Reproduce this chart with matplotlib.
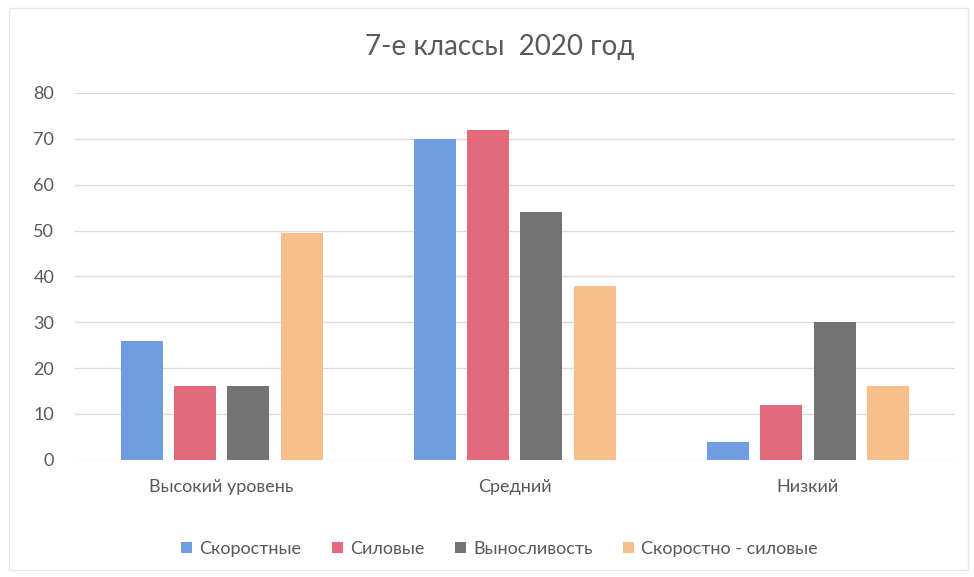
import matplotlib
matplotlib.use("Agg")
import matplotlib.pyplot as plt
import numpy as np
from matplotlib.patches import Rectangle

categories = ["Высокий уровень", "Средний", "Низкий"]
series_names = ["Скоростные", "Силовые", "Выносливость", "Скоростно - силовые"]
skorostnye = [26, 70, 4]
silovye = [16, 72, 12]
vynoslivost = [16, 54, 30]
skor_silovye = [49.5, 38, 16]
yticks = [0, 10, 20, 30, 40, 50, 60, 70, 80]

values = [skorostnye, silovye, vynoslivost, skor_silovye]
colors = ["#6f9be0", "#e2697a", "#737373", "#f7bf8c"]

plt.rcParams['font.family'] = ['Lato', 'DejaVu Sans']

fig = plt.figure(figsize=(9.74, 5.77), dpi=100)
ax = fig.add_axes([0.077, 0.203, 0.903, 0.636])

x = np.arange(len(categories))
pitch = 0.182
width = 0.143
for i, (name, vals, c) in enumerate(zip(series_names, values, colors)):
    ax.bar(x + (i - 1.5) * pitch, vals, width=width, color=c, label=name, zorder=3)

ax.set_xlim(-0.5, 2.5)
ax.set_ylim(0, 80)
ax.set_yticks(yticks)
ax.set_xticks(x)
ax.set_xticklabels(categories)
ax.grid(axis='y', color='#dcdcdc', linewidth=1, zorder=0)
for s in ax.spines.values():
    s.set_visible(False)
ax.tick_params(axis='both', length=0, labelsize=13, colors='#595959')
ax.tick_params(axis='y', pad=15)
ax.tick_params(axis='x', pad=14)

fig.text(0.513, 0.918, "7-е классы  2020 год", ha='center', va='center',
         fontsize=20, color='#595959')

leg = fig.legend(loc='center', bbox_to_anchor=(0.513, 0.049), ncol=4, frameon=False,
                 fontsize=13, handlelength=0.6, handleheight=0.6, columnspacing=1.7,
                 handletextpad=0.4)
for t in leg.get_texts():
    t.set_color('#595959')

fig.patches.append(Rectangle((0.009, 0.012), 0.985, 0.975, transform=fig.transFigure,
                             fill=False, edgecolor='#e6e6e6', linewidth=1))

fig.savefig("out.png", dpi=100)
